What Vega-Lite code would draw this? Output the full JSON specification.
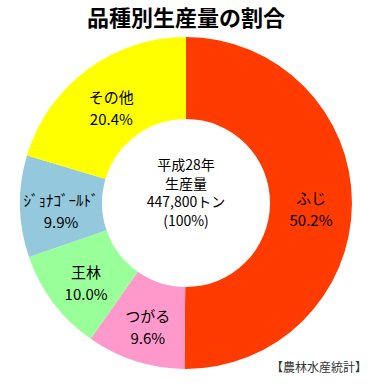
{
  "$schema": "https://vega.github.io/schema/vega-lite/v6.json",
  "autosize": "none",
  "width": 372,
  "height": 326,
  "padding": {"top": 40, "left": 0, "right": 3, "bottom": 23},
  "background": "white",
  "title": {
    "text": "品種別生産量の割合",
    "font": "Noto Sans CJK JP",
    "fontSize": 22,
    "fontWeight": "bold",
    "color": "#000000",
    "anchor": "middle",
    "offset": 6
  },
  "config": {"view": {"stroke": null}},
  "datasets": {
    "apples": [
      {"name": "ふじ", "pct": 50.2, "label": "50.2%", "order": 1},
      {"name": "つがる", "pct": 9.6, "label": "9.6%", "order": 2},
      {"name": "王林", "pct": 10.0, "label": "10.0%", "order": 3},
      {"name": "ｼﾞｮﾅｺﾞｰﾙﾄﾞ", "pct": 9.9, "label": "9.9%", "order": 4},
      {"name": "その他", "pct": 20.4, "label": "20.4%", "order": 5}
    ],
    "center": [{"text": ["平成28年", "生産量", "447,800トン", "(100%)"]}],
    "source": [{"text": "【農林水産統計】"}]
  },
  "layer": [
    {
      "data": {"name": "apples"},
      "mark": {"type": "arc", "outerRadius": 166, "innerRadius": 84},
      "encoding": {
        "theta": {"field": "pct", "type": "quantitative", "stack": true},
        "order": {"field": "order", "type": "quantitative"},
        "color": {
          "field": "name",
          "type": "nominal",
          "legend": null,
          "scale": {
            "domain": ["ふじ", "つがる", "王林", "ｼﾞｮﾅｺﾞｰﾙﾄﾞ", "その他"],
            "range": ["#FF3B00", "#FF99CC", "#99FF99", "#94C8DC", "#FFFF00"]
          }
        }
      }
    },
    {
      "data": {"name": "apples"},
      "mark": {"type": "text", "radius": 125, "font": "Noto Sans CJK JP", "fontSize": 15, "color": "#000000", "dy": -5},
      "encoding": {
        "theta": {"field": "pct", "type": "quantitative", "stack": true},
        "order": {"field": "order", "type": "quantitative"},
        "text": {"field": "name"}
      }
    },
    {
      "data": {"name": "apples"},
      "mark": {"type": "text", "radius": 125, "font": "Noto Sans CJK JP", "fontSize": 15, "color": "#000000", "dy": 17},
      "encoding": {
        "theta": {"field": "pct", "type": "quantitative", "stack": true},
        "order": {"field": "order", "type": "quantitative"},
        "text": {"field": "label"}
      }
    },
    {
      "data": {"name": "center"},
      "mark": {"type": "text", "font": "Noto Sans CJK JP", "fontSize": 14, "color": "#000000", "lineHeight": 18.5, "baseline": "middle", "dy": -37},
      "encoding": {
        "text": {"field": "text"}
      }
    },
    {
      "data": {"name": "source"},
      "mark": {"type": "text", "font": "Noto Sans CJK JP", "fontSize": 12, "color": "#333333", "align": "right", "baseline": "middle", "dx": -5, "dy": 2},
      "encoding": {
        "x": {"value": "width"},
        "y": {"value": "height"},
        "text": {"field": "text"}
      }
    }
  ]
}
